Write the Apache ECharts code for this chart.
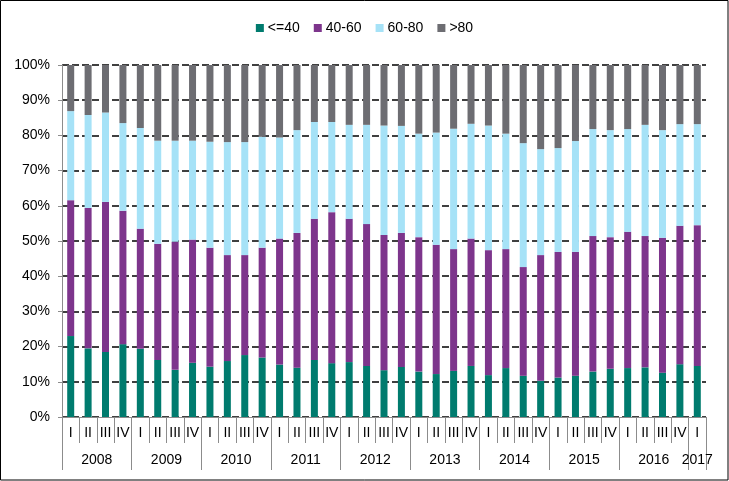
<!DOCTYPE html>
<html>
<head>
<meta charset="utf-8">
<script src="https://cdn.jsdelivr.net/npm/echarts@6/dist/echarts.min.js"></script>
<style>
html,body{margin:0;padding:0;background:#fff;}
#chart{width:729px;height:481px;}
</style>
</head>
<body>
<div id="chart"></div>
<script>
var quarters = ['I','II','III','IV','I','II','III','IV','I','II','III','IV','I','II','III','IV','I','II','III','IV','I','II','III','IV','I','II','III','IV','I','II','III','IV','I','II','III','IV','I'];
var years = ['2008','2009','2010','2011','2012','2013','2014','2015','2016','2017'];
var seriesNames = ['<=40','40-60','60-80','>80'];
var le40 = [23.0,19.5,18.5,20.7,19.4,16.2,13.4,15.4,14.3,15.9,17.6,16.9,14.9,14.0,16.2,15.3,15.6,14.5,13.3,14.2,12.9,12.2,13.1,14.5,11.9,13.9,11.7,10.3,11.2,11.7,12.9,13.7,13.9,14.1,12.6,15.0,14.5];
var r40_60 = [38.6,39.9,42.6,37.9,34.1,33.0,36.4,35.0,33.8,30.1,28.4,31.2,35.8,38.3,40.1,42.9,40.7,40.3,38.4,38.1,38.2,36.7,34.6,36.2,35.5,33.8,30.9,35.7,35.7,35.2,38.5,37.4,38.7,37.3,38.3,39.3,40.0];
var r60_80 = [25.3,26.4,25.4,24.9,28.6,29.3,28.7,28.1,30.1,32.1,32.1,31.5,28.7,29.2,27.5,25.6,26.7,28.2,31.1,30.4,29.4,31.9,34.2,32.6,35.4,32.8,35.2,30.1,29.5,31.5,30.4,30.4,29.2,31.6,30.6,28.9,28.7];
var gt80 = [13.1,14.2,13.5,16.5,17.9,21.5,21.5,21.5,21.8,21.9,21.9,20.4,20.6,18.5,16.2,16.2,17.0,17.0,17.2,17.3,19.5,19.2,18.1,16.7,17.2,19.5,22.2,23.9,23.6,21.6,18.2,18.5,18.2,17.0,18.5,16.8,16.8];

var colors = ['#007b6e','#7d358c','#a6e2f7','#6d6d72'];
var font = 'Liberation Sans, Arial, sans-serif';
var chart = echarts.init(document.getElementById('chart'), null, {renderer:'canvas'});

function yearLabel(v){
  var r = Math.round(v*2)/2;
  var n = quarters.length;
  for (var k = 0; k < years.length; k++) {
    var start = k*4;
    var end = Math.min(start+4, n);
    var c = (start+end)/2;
    if (Math.abs(r - c) < 1e-6) return years[k];
  }
  return '';
}

var data = [le40, r40_60, r60_80, gt80];
var series = seriesNames.map(function(name, i){
  return {
    name: name,
    type: 'bar',
    stack: 'total',
    xAxisIndex: 0,
    barWidth: 7,
    itemStyle: {color: colors[i]},
    data: data[i]
  };
});

chart.setOption({
  animation: false,
  textStyle: {fontFamily: font},
  graphic: [{
    type: 'rect',
    shape: {x: 0.5, y: 0.5, width: 727.5, height: 479.5},
    style: {fill: 'none', stroke: '#000', lineWidth: 1},
    silent: true,
    z: 100
  }],
  legend: {
    top: 16,
    left: 'center',
    itemWidth: 8,
    itemHeight: 8,
    itemGap: 14,
    icon: 'rect',
    textStyle: {fontSize: 14, color: '#000', fontFamily: font, padding: [0,0,0,-1]},
    data: seriesNames
  },
  grid: {left: 62, right: 23, top: 65, bottom: 64, containLabel: false},
  xAxis: [{
    type: 'category',
    data: quarters,
    position: 'bottom',
    boundaryGap: true,
    axisLine: {show: true, lineStyle: {color: '#8c8c8c', width: 1}},
    axisTick: {show: true, interval: 0, length: 26, lineStyle: {color: '#8c8c8c'}},
    axisLabel: {interval: 0, margin: 9, fontSize: 14, color: '#000', fontFamily: font},
    splitLine: {show: false}
  }, {
    type: 'category',
    data: quarters,
    position: 'bottom',
    boundaryGap: true,
    axisLine: {show: false},
    axisTick: {show: true, length: 53, lineStyle: {color: '#8c8c8c'},
      interval: function(i){ return i % 4 === 0; }},
    axisLabel: {show: false},
    splitLine: {show: false}
  }, {
    type: 'value',
    min: 0,
    max: quarters.length,
    interval: 0.5,
    position: 'bottom',
    axisLine: {show: false},
    axisTick: {show: false},
    splitLine: {show: false},
    axisLabel: {show: true, margin: 36, fontSize: 14, color: '#000', fontFamily: font,
      showMinLabel: true, showMaxLabel: true, hideOverlap: false,
      formatter: function(v){ return yearLabel(v); }}
  }],
  yAxis: {
    type: 'value',
    min: 0,
    max: 100,
    interval: 10,
    axisLine: {show: true, lineStyle: {color: '#8c8c8c'}},
    axisTick: {show: true, length: 4, lineStyle: {color: '#8c8c8c'}},
    axisLabel: {formatter: '{value}%', fontSize: 14, color: '#000', margin: 12, fontFamily: font},
    splitLine: {show: true, lineStyle: {color: '#404040', width: 2, type: [7, 3]}}
  },
  series: series
});
</script>
</body>
</html>
